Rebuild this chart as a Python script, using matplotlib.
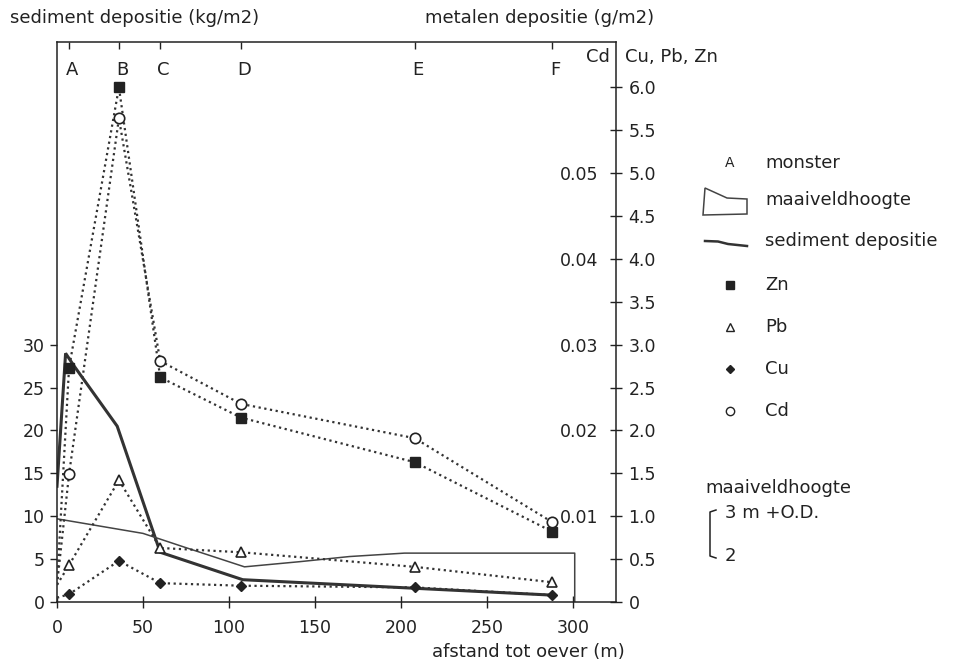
import matplotlib
matplotlib.use("Agg")
import matplotlib.pyplot as plt
from matplotlib.lines import Line2D
from matplotlib.patches import Polygon
import matplotlib.transforms as mtransforms

plt.rcParams['font.family'] = ['DejaVu Sans']

# samples A-F along the transect (m from the river bank)
sample_names = ['A', 'B', 'C', 'D', 'E', 'F']
sample_x = [7, 36, 60, 107, 208, 288]

# metal deposition (g/m2); first point at the bank itself (x = 0) has no marker
metal_x = [0] + sample_x
zn = [0.2, 2.73, 6.0, 2.62, 2.15, 1.63, 0.82]
pb = [0.2, 0.43, 1.42, 0.63, 0.58, 0.41, 0.23]
cu = [0.05, 0.09, 0.48, 0.22, 0.19, 0.17, 0.08]
cd = [0.002, 0.0149, 0.0564, 0.0281, 0.0231, 0.0191, 0.0093]

# sediment deposition (kg/m2)
sed_x = [0, 5, 10, 35, 60, 108, 208, 288]
sed = [13.5, 29.0, 27.5, 20.5, 5.8, 2.6, 1.6, 0.8]

# ground level profile (maaiveldhoogte), drawn on the sediment scale
terrain_x = [0, 50, 74, 109, 141, 170, 202, 301, 301]
terrain_y = [9.7, 8.0, 6.4, 4.1, 4.7, 5.3, 5.7, 5.7, 0]

left_ticks = [0, 5, 10, 15, 20, 25, 30]
right_ticks = [0, 0.5, 1.0, 1.5, 2.0, 2.5, 3.0, 3.5, 4.0, 4.5, 5.0, 5.5, 6.0]
cd_ticks = [0.01, 0.02, 0.03, 0.04, 0.05]
x_ticks = [0, 50, 100, 150, 200, 250, 300]

W, H = 964, 663
fig = plt.figure(figsize=(W / 100, H / 100), dpi=100)


def fx(px):
    return px / W


def fy(py):
    return 1 - py / H


ink = '#222222'
fs_tick = 12.5
fs_lab = 13

ax = fig.add_axes([fx(57), fy(602), fx(616) - fx(57), fy(42) - fy(602)])
ax.set_xlim(0, 325)
ax.set_ylim(0, 65.3)
ax2 = ax.twinx()
ax2.set_ylim(0, 6.53)
ax3 = ax.twinx()
ax3.set_ylim(0, 0.0653)

# sediment and ground level
ax.plot(sed_x, sed, color='#333333', lw=2.2, solid_joinstyle='miter')
ax.plot(terrain_x, terrain_y, color='#444444', lw=1.1)

# metals
dot = dict(ls=(0, (1, 1.6)), lw=1.6, color='#333333', markevery=slice(1, None))
ax2.plot(metal_x, zn, marker='s', ms=6.5, mfc=ink, mec=ink, **dot)
ax2.plot(metal_x, pb, marker='^', ms=7.5, mfc='white', mec=ink, mew=1.2, **dot)
ax2.plot(metal_x, cu, marker='D', ms=5.5, mfc=ink, mec=ink, **dot)
ax3.plot(metal_x, cd, marker='o', ms=7.5, mfc='white', mec=ink, mew=1.2, **dot)

# axes styling
for s in ['right']:
    ax.spines[s].set_visible(False)
for s in ['left', 'top', 'bottom']:
    ax2.spines[s].set_visible(False)
for s in ax3.spines.values():
    s.set_visible(False)
for a in (ax, ax2):
    for s in a.spines.values():
        s.set_color(ink)
        s.set_linewidth(1.1)

ax.set_xticks(x_ticks)
ax.set_yticks(left_ticks)
ax.tick_params(axis='x', direction='inout', length=8, width=1, colors=ink,
               labelsize=fs_tick, pad=8)
ax.tick_params(axis='y', direction='out', length=5, width=1, colors=ink,
               labelsize=fs_tick, pad=4)

ax2.set_yticks(right_ticks, labels=['0'] + [f'{v:.1f}' for v in right_ticks[1:]])
ax2.tick_params(axis='y', direction='inout', length=8, width=1, colors=ink,
                labelsize=fs_tick, pad=5)

ax3.set_yticks(cd_ticks, labels=[f'{v:.2f}' for v in cd_ticks])
ax3.tick_params(axis='y', length=0, colors=ink, labelsize=fs_tick, pad=-13)
for t in ax3.get_yticklabels():
    t.set_horizontalalignment('right')

# sample ticks on top spine with letters
top = ax.secondary_xaxis('top')
top.set_xticks(sample_x, labels=[''] * len(sample_x))
top.tick_params(direction='in', length=5, width=1, colors=ink)
top.spines['top'].set_visible(False)
trans = mtransforms.blended_transform_factory(ax.transData, ax.transAxes)
for name, x in zip(sample_names, sample_x):
    ax.text(x + 2, 0.95, name, transform=trans, ha='center', va='center',
            fontsize=fs_lab, color=ink)

# axis titles and annotations
fig.text(fx(10), fy(18), 'sediment depositie (kg/m2)', fontsize=fs_lab,
         color=ink, va='center')
fig.text(fx(425), fy(18), 'metalen depositie (g/m2)', fontsize=fs_lab,
         color=ink, va='center')
fig.text(fx(610), fy(57), 'Cd', fontsize=fs_lab, color=ink, ha='right', va='center')
fig.text(fx(625), fy(57), 'Cu, Pb, Zn', fontsize=fs_lab, color=ink, va='center')
fig.text(fx(625), fy(652), 'afstand tot oever (m)', fontsize=fs_lab, color=ink,
         ha='right', va='center')

# manual legend
tx = fx(765)
mx = fx(730)
rows = {'monster': 163, 'maaiveldhoogte': 200, 'sediment depositie': 241,
        'Zn': 285, 'Pb': 327, 'Cu': 369, 'Cd': 411}
for label, py in rows.items():
    fig.text(tx, fy(py), label, fontsize=fs_lab, color=ink, va='center')
fig.text(mx, fy(163), 'A', fontsize=10, color=ink, ha='center', va='center')
fig.add_artist(Polygon([(fx(705), fy(188)), (fx(727), fy(198)), (fx(747), fy(199)),
                        (fx(747), fy(214)), (fx(703), fy(215))],
                       closed=True, fill=False, ec='#444444', lw=1.1,
                       transform=fig.transFigure))
fig.add_artist(Line2D([fx(705), fx(718), fx(728), fx(747)],
                      [fy(241), fy(241.5), fy(244), fy(246)],
                      color='#333333', lw=1.8, transform=fig.transFigure))
marks = [('Zn', 's', ink, 5.5), ('Pb', '^', 'white', 5.5), ('Cu', 'D', ink, 4.5),
         ('Cd', 'o', 'white', 6)]
for label, m, fc, ms in marks:
    fig.add_artist(Line2D([mx], [fy(rows[label])], marker=m, ms=ms, mfc=fc,
                          mec=ink, mew=1, ls='none', transform=fig.transFigure))

# ground level scale bar
fig.text(fx(705), fy(488), 'maaiveldhoogte', fontsize=fs_lab, color=ink, va='center')
fig.text(fx(725), fy(513), '3 m +O.D.', fontsize=fs_lab, color=ink, va='center')
fig.text(fx(725), fy(556), '2', fontsize=fs_lab, color=ink, va='center')
fig.add_artist(Line2D([fx(716), fx(710), fx(710), fx(716)],
                      [fy(510), fy(512), fy(556), fy(558)],
                      color=ink, lw=1.1, transform=fig.transFigure))

fig.savefig('out.png', dpi=100)
